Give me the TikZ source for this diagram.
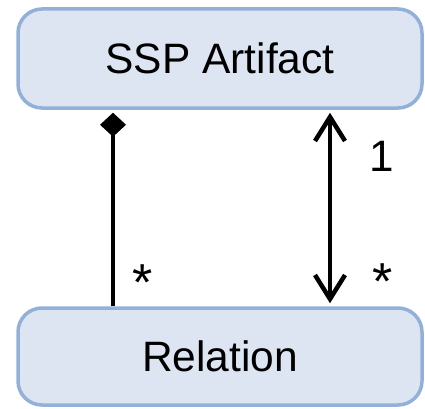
\documentclass[tikz,border=0pt]{standalone}
\usepackage{fontspec}
\setmainfont{Liberation Sans}
\usetikzlibrary{arrows.meta}
\definecolor{boxfill}{HTML}{DCE5F1}
\definecolor{boxline}{HTML}{93B1D8}
\tikzset{
  classbox/.style={draw=boxline, fill=boxfill, line width=3.5pt, rounded corners=24pt,
    minimum width=404pt, inner sep=0pt, font=\fontsize{42.5}{46}\selectfont},
  link/.style={line width=4.5pt},
  barb/.tip={Straight Barb[length=24pt,width=30pt]},
  mult/.style={font=\fontsize{44}{48}\selectfont, inner sep=0pt},
  star/.style={font=\fontsize{52}{56}\selectfont, inner sep=0pt}
}
\begin{document}
\begin{tikzpicture}[x=1pt,y=1pt]
  \useasboundingbox (0,0) rectangle (425,408);
  \node[classbox, minimum height=99pt] (art) at (220,349.5) {SSP Artifact};
  \node[classbox, minimum height=97pt] (rel) at (220,51.5) {Relation};
  % composition: Relation is part of SSP Artifact
  \draw[link, -{Diamond[length=24pt,width=26pt]}, shorten >=3pt]
    ([xshift=-107pt]rel.north) -- ([xshift=-107pt]art.south);
  % navigable association in both directions
  \draw[link, barb-barb, shorten >=3pt, shorten <=3pt]
    ([xshift=110pt]rel.north) -- ([xshift=110pt]art.south);
  \node[star] (m1) at (143,125) {*};
  \node[star] (m2) at (383,126) {*};
  \node[mult] (m3) at (382,252) {1};
\end{tikzpicture}
\end{document}
